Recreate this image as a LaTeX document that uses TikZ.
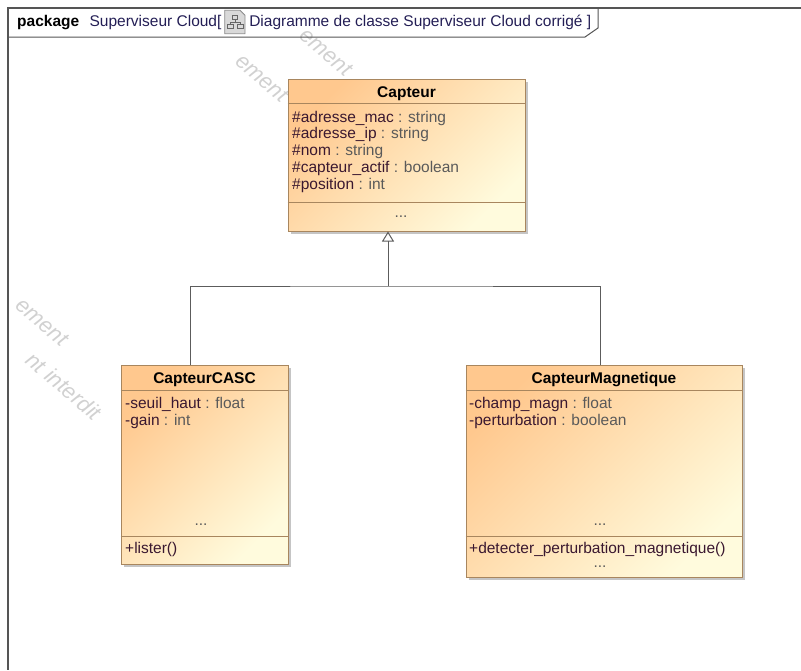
\documentclass[tikz,border=0pt]{standalone}
\usepackage{fontspec}
\setmainfont{Liberation Sans}
\usetikzlibrary{positioning,arrows.meta,shadows}

\definecolor{classfill}{HTML}{FFC88E}
\definecolor{classfade}{HTML}{FFFBDD}
\definecolor{classedge}{HTML}{A8865E}
\definecolor{attrname}{HTML}{3A1830}
\definecolor{attrtype}{HTML}{5A5A5A}
\definecolor{linkgray}{HTML}{5C5C5C}
\definecolor{framegray}{HTML}{555555}
\definecolor{pkgblue}{HTML}{231E55}

\newcommand{\umlfont}{\fontsize{15.5}{16.75}\selectfont}
\newcommand{\attr}[2]{\textcolor{attrname}{#1} \textcolor{attrtype}{: #2}}

\tikzset{
  classbox/.style={draw=classedge, line width=1pt,
    top color=classfill, bottom color=classfade, shading angle=45,
    drop shadow={shadow xshift=3pt, shadow yshift=-3pt, fill=black!45, opacity=.5}},
  classname/.style={font=\umlfont\bfseries, anchor=base, inner sep=0pt},
  member/.style={font=\umlfont, anchor=base west, inner sep=0pt, text=attrname},
  dots/.style={font=\umlfont, anchor=base, inner sep=0pt, text=attrtype},
  title/.style={font=\umlfont, anchor=base west, inner sep=0pt, text=pkgblue},
  sepline/.style={draw=classedge, line width=1pt},
  genline/.style={draw=linkgray, line width=1pt},
  watermark/.style={font=\fontsize{22}{24}\selectfont\itshape, text=black!18, inner sep=0pt, rotate=-40}
}

\begin{document}
\begin{tikzpicture}[x=1pt, y=-1pt]
  \useasboundingbox (0,0) rectangle (801,670);

  % watermark left behind the diagram
  \node[watermark] (wm1) at (326,52) {ement};
  \node[watermark] (wm2) at (262,78) {ement};
  \node[watermark] (wm3) at (42,322) {ement};
  \node[watermark] (wm4) at (64,386) {nt interdit};

  % frame and tab
  \draw[framegray, line width=1.2pt] (801,8) -- (8,8) -- (8,670);
  \draw[framegray, line width=1pt] (8,37) -- (585,37) -- (598,28) -- (598,8);

  \node[title, font=\umlfont\bfseries, text=black] (pkg) at (17,26) {package};
  \node[title, right=10pt of pkg.base east, anchor=base west] (pkgname) {Superviseur Cloud[};
  \node[minimum width=20, minimum height=23, inner sep=0pt, right=3pt of pkgname.east] (diagicon) {};
  \draw[black!45, fill=black!15, line width=.8pt] (diagicon.south west) -- (diagicon.north west)
    -- ([xshift=-5pt]diagicon.north east) -- ([yshift=-5pt]diagicon.north east)
    -- (diagicon.south east) -- cycle;
  \draw[black!60, line width=.7pt]
    ([xshift=-2.5pt,yshift=3pt]diagicon.center) rectangle ([xshift=2.5pt,yshift=7pt]diagicon.center)
    ([yshift=3pt]diagicon.center) -- ([yshift=0pt]diagicon.center)
    ([xshift=-5pt,yshift=-2pt]diagicon.center) -- ([xshift=-5pt]diagicon.center)
    -- ([xshift=5pt]diagicon.center) -- ([xshift=5pt,yshift=-2pt]diagicon.center)
    ([xshift=-8pt,yshift=-2pt]diagicon.center) rectangle ([xshift=-2pt,yshift=-6pt]diagicon.center)
    ([xshift=2pt,yshift=-2pt]diagicon.center) rectangle ([xshift=8pt,yshift=-6pt]diagicon.center);
  \node[title, xshift=4pt] (diagname) at (diagicon.east |- pkgname.base)
    {Diagramme de classe Superviseur Cloud corrigé ]};

  % class Capteur
  \node[classbox, minimum width=237, minimum height=152] (capteur) at (406.5,155) {};
  \draw[sepline] (capteur.west |- 0,103) -- (capteur.east |- 0,103);
  \draw[sepline] (capteur.west |- 0,202) -- (capteur.east |- 0,202);
  \node[classname] (capteur-title) at (capteur.north |- 0,97) {Capteur};
  \foreach \nm/\ty [count=\i] in {\#adresse\_mac/string, \#adresse\_ip/string, \#nom/string,
      \#capteur\_actif/boolean, \#position/int}
    \node[member] (capteur-attr\i) at (292, {105.25+16.75*\i}) {\attr{\nm}{\ty}};
  \node[dots] (capteur-ops) at (401,217) {...};

  % class CapteurCASC
  \node[classbox, minimum width=167, minimum height=199] (casc) at (204.5,464.5) {};
  \draw[sepline] (casc.west |- 0,390) -- (casc.east |- 0,390);
  \draw[sepline] (casc.west |- 0,536) -- (casc.east |- 0,536);
  \node[classname] (casc-title) at (casc.north |- 0,383) {CapteurCASC};
  \foreach \nm/\ty [count=\i] in {-seuil\_haut/float, -gain/int}
    \node[member] (casc-attr\i) at (125, {391.75+16.75*\i}) {\attr{\nm}{\ty}};
  \node[dots] (casc-more) at (201,525) {...};
  \node[member] (casc-op1) at (125,553) {+lister()};

  % class CapteurMagnetique
  \node[classbox, minimum width=276, minimum height=212] (magn) at (604,471) {};
  \draw[sepline] (magn.west |- 0,390) -- (magn.east |- 0,390);
  \draw[sepline] (magn.west |- 0,536) -- (magn.east |- 0,536);
  \node[classname] (magn-title) at (magn.north |- 0,383) {CapteurMagnetique};
  \foreach \nm/\ty [count=\i] in {-champ\_magn/float, -perturbation/boolean}
    \node[member] (magn-attr\i) at (469, {391.75+16.75*\i}) {\attr{\nm}{\ty}};
  \node[dots] (magn-more) at (600,525) {...};
  \node[member] (magn-op1) at (469,553.5) {+detecter\_perturbation\_magnetique()};
  \node[dots] (magn-ops) at (600,567) {...};

  % generalisation
  \coordinate (join) at (388,286);
  \draw[genline] (casc.north -| 190,0) |- (join) -| (magn.north -| 600,0);
  \draw[genline, -{Triangle[open, length=10pt, width=12pt]}] (join) -- (join |- capteur.south);
\end{tikzpicture}
\end{document}
